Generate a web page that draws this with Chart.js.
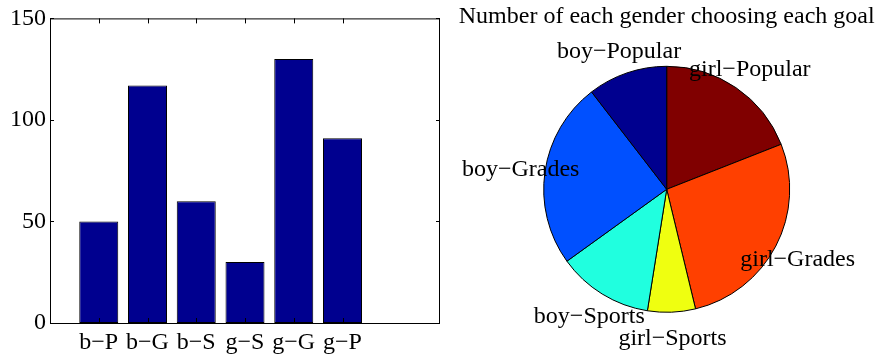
<!DOCTYPE html>
<html>
<head>
<meta charset="utf-8">
<script src="https://cdn.jsdelivr.net/npm/chart.js@4"></script>
<style>
  html, body { margin: 0; padding: 0; background: #fff; }
  #wrap { position: relative; width: 881px; height: 354px; }
  canvas { position: absolute; left: 0; top: 0; }
</style>
</head>
<body>
<div id="wrap">
  <canvas id="barChart" width="881" height="354"></canvas>
  <canvas id="pieChart" width="881" height="354"></canvas>
</div>
<script>
// data
var barLabels = ['b\u2212P', 'b\u2212G', 'b\u2212S', 'g\u2212S', 'g\u2212G', 'g\u2212P'];
var counts = [50, 117, 60, 30, 130, 91];
var yTicks = [0, 50, 100, 150];
var pieLabels = ['boy\u2212Popular', 'boy\u2212Grades', 'boy\u2212Sports', 'girl\u2212Sports', 'girl\u2212Grades', 'girl\u2212Popular'];
var pieValues = [50, 117, 60, 30, 130, 91];
var pieColors = ['#00008f', '#0050ff', '#20ffdf', '#efff10', '#ff4000', '#800000'];
var pieTitle = 'Number of each gender choosing each goal';

var FONT = '"Liberation Serif", "Times New Roman", serif';
var FSIZE = 24;
Chart.defaults.font.family = FONT;
Chart.defaults.color = '#000';

// box with inward ticks, matlab style
var boxPlugin = {
    id: 'box',
    afterDraw: function(chart) {
        var ctx = chart.ctx, a = chart.chartArea;
        var x = chart.scales.x, y = chart.scales.y;
        ctx.save();
        ctx.strokeStyle = '#000';
        ctx.lineWidth = 1;
        ctx.strokeRect(a.left + 0.5, a.top + 0.5, a.right - a.left - 1, a.bottom - a.top);
        ctx.beginPath();
        x.ticks.forEach(function(t) {
            var px = Math.round(x.getPixelForValue(t.value)) + 0.5;
            ctx.moveTo(px, a.top); ctx.lineTo(px, a.top + 5);
            ctx.moveTo(px, a.bottom); ctx.lineTo(px, a.bottom - 5);
        });
        y.ticks.forEach(function(t) {
            var py = Math.round(y.getPixelForValue(t.value)) + 0.5;
            ctx.moveTo(a.left, py); ctx.lineTo(a.left + 4, py);
            ctx.moveTo(a.right, py); ctx.lineTo(a.right - 4, py);
        });
        ctx.stroke();
        ctx.restore();
    }
};

new Chart(document.getElementById('barChart'), {
    type: 'bar',
    data: {
        datasets: [{
            data: counts.map(function(v, i) { return { x: i + 1, y: v }; }),
            backgroundColor: '#00008f',
            borderColor: '#000',
            borderWidth: 1,
            borderSkipped: false,
            barPercentage: 0.8,
            categoryPercentage: 1.0
        }]
    },
    options: {
        responsive: false,
        animation: false,
        events: [],
        layout: { padding: { top: 16, right: 441, left: 0, bottom: 0 } },
        plugins: { legend: { display: false }, tooltip: { enabled: false } },
        scales: {
            x: {
                type: 'linear',
                offset: false,
                min: 0,
                max: 8,
                grid: { display: false, drawTicks: false, offset: false },
                border: { display: false },
                afterBuildTicks: function(s) {
                    s.ticks = barLabels.map(function(_, i) { return { value: i + 1 }; });
                },
                afterFit: function(s) { s.height = 31; },
                ticks: {
                    autoSkip: false,
                    maxRotation: 0,
                    padding: 5,
                    font: { size: FSIZE },
                    callback: function(v) { return barLabels[v - 1]; }
                }
            },
            y: {
                min: 0,
                max: 150,
                grid: { display: false, drawTicks: false },
                border: { display: false },
                afterBuildTicks: function(s) {
                    s.ticks = yTicks.map(function(v) { return { value: v }; });
                },
                afterFit: function(s) { s.width = 50; },
                ticks: { padding: 4, font: { size: FSIZE } }
            }
        }
    },
    plugins: [boxPlugin]
});

// pie labels at 1.2 r like matlab, plus title
var pieText = {
    id: 'pieText',
    afterDraw: function(chart) {
        var ctx = chart.ctx;
        var meta = chart.getDatasetMeta(0);
        var labels = chart.data.labels;
        ctx.save();
        ctx.fillStyle = '#000';
        ctx.font = FSIZE + 'px ' + FONT;
        ctx.textAlign = 'center';
        ctx.textBaseline = 'middle';
        meta.data.forEach(function(arc, i) {
            var mid = (arc.startAngle + arc.endAngle) / 2;
            var r = arc.outerRadius * 1.2;
            ctx.fillText(labels[i], arc.x + Math.cos(mid) * r, arc.y + Math.sin(mid) * r + 2);
        });
        var a = meta.data[0];
        ctx.fillText(pieTitle, a.x, 17);
        ctx.restore();
    }
};

// matlab goes counterclockwise, chart.js clockwise, so reverse
new Chart(document.getElementById('pieChart'), {
    type: 'pie',
    data: {
        labels: pieLabels.slice().reverse(),
        datasets: [{
            data: pieValues.slice().reverse(),
            backgroundColor: pieColors.slice().reverse(),
            borderColor: '#000',
            borderWidth: 1,
            hoverOffset: 0
        }]
    },
    options: {
        responsive: false,
        animation: false,
        events: [],
        radius: 123,
        layout: { padding: { left: 544, right: 91.6, top: 66, bottom: 41.4 } },
        plugins: { legend: { display: false }, tooltip: { enabled: false } }
    },
    plugins: [pieText]
});
</script>
</body>
</html>
